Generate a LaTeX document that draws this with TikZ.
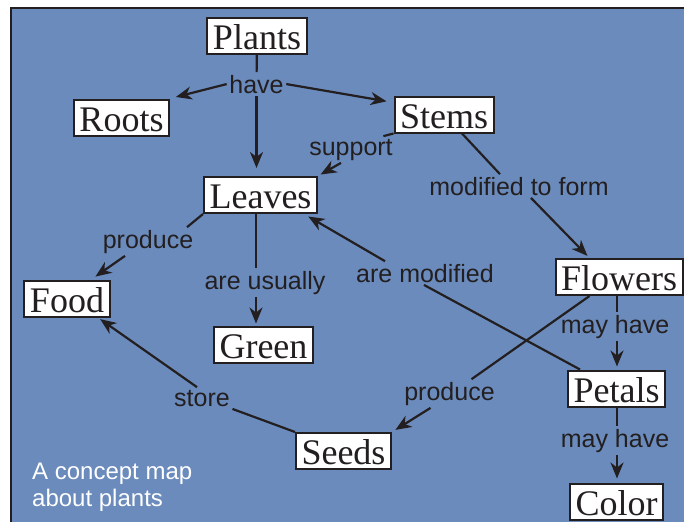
\documentclass[tikz,border=0pt]{standalone}
\usepackage{fontspec}
\setmainfont{Liberation Serif}
\setsansfont{Liberation Sans}
\usetikzlibrary{arrows.meta}
\definecolor{bg}{RGB}{106,139,188}
\definecolor{ink}{RGB}{35,31,32}
\begin{document}
\begin{tikzpicture}[x=1pt,y=-1pt,
  concept/.style={draw=ink, line width=2pt, fill=white, text=ink, font=\fontsize{36}{36}\selectfont, inner xsep=5.5pt, inner ysep=4.5pt, text height=27pt, text depth=0pt},
  lab/.style={text=ink, font=\sffamily\fontsize{25}{26}\selectfont, inner sep=2.5pt, anchor=base},
  captxt/.style={text=white, font=\sffamily\fontsize{24}{25}\selectfont, inner sep=0pt, anchor=base west},
  link/.style={draw=ink, line width=2.2pt},
  arr/.style={link, -{Stealth[length=16pt,width=13pt,inset=5pt]}},
]
\useasboundingbox (0,0) rectangle (684,522);
\fill[white] (0,0) rectangle (684,522);
\fill[bg] (11,8) rectangle (684,522);
\draw[ink, line width=1.5pt] (11,522) -- (11,8) -- (684,8);

% concepts
\node[concept] (plants)  at (257,36)     {Plants};
\node[concept] (roots)   at (121.5,117.5){Roots};
\node[concept] (stems)   at (444,114.5)  {Stems};
\node[concept] (leaves)  at (260.5,195)  {Leaves};
\node[concept] (food)    at (67,299)     {Food};
\node[concept] (green)   at (263.5,344.5){Green};
\node[concept] (flowers) at (619,277)    {Flowers};
\node[concept] (petals)  at (616.5,388.5){Petals};
\node[concept] (seeds)   at (343.5,451)  {Seeds};
\node[concept] (color)   at (616.5,501.5){Color};

% link labels
\node[lab] (have)      at (256.5,93)  {have};
\node[lab] (support)   at (351,155)   {support};
\node[lab] (modified)  at (519,195)   {modified to form};
\node[lab] (produce1)  at (148,248)   {produce};
\node[lab] (usually)   at (265,289)   {are usually};
\node[lab] (modified2) at (425,282)   {are modified};
\node[lab] (may1)      at (615,333)   {may have};
\node[lab] (produce2)  at (449.5,400) {produce};
\node[lab] (may2)      at (615,447)   {may have};
\node[lab] (store)     at (202,406)   {store};

% caption
\node[captxt] (cap1) at (32,479) {A concept map};
\node[captxt] (cap2) at (32,506) {about plants};

% connectors
\draw[link] (plants) -- (have);
\draw[arr, shorten >=6pt] (have.west) -- (roots.north east);
\draw[arr, shorten >=7pt] (have.east) -- ([yshift=-7pt]stems.north west);
\draw[arr, shorten >=8pt] (have.south) -- (have.south |- leaves.north);
\draw[link] (stems.south west) -- ([xshift=-12pt]support.north east);
\draw[arr, shorten >=3pt] ([xshift=-10pt]support.south) -- (leaves.north east);
\draw[link] ([xshift=18pt]stems.south) -- ([xshift=-19pt]modified.north);
\draw[arr, shorten >=3pt] ([xshift=12pt]modified.south) -- ([xshift=35pt]flowers.north west);
\draw[link] (leaves.south west) -- ([xshift=39pt]produce1.north);
\draw[arr, shorten >=6pt] ([xshift=-23pt]produce1.south) -- ([xshift=-20pt]food.north east);
\draw[link] ([xshift=-4.5pt]leaves.south) -- ([xshift=-4.5pt]leaves.south |- usually.north);
\draw[arr, shorten >=2pt] ([xshift=-9pt]usually.south) -- ([xshift=-9pt]usually.south |- green.north);
\draw[link] ([xshift=13pt]petals.north west) -- ([xshift=-1pt]modified2.south);
\draw[arr, shorten >=5pt] ([xshift=-40pt]modified2.north) -- ([xshift=-14pt]leaves.south east);
\draw[link] ([xshift=35pt]flowers.south west) -- ([xshift=22pt]produce2.north);
\draw[arr, shorten >=4pt] ([xshift=-19pt]produce2.south) -- (seeds.north east);
\draw[link] ([xshift=-2pt]flowers.south) -- ([xshift=-2pt]flowers.south |- may1.north);
\draw[arr, shorten >=3pt] ([xshift=2pt]may1.south) -- ([xshift=2pt]may1.south |- petals.north);
\draw[link] ([xshift=0.5pt]petals.south) -- ([xshift=0.5pt]petals.south |- may2.north);
\draw[arr, shorten >=4pt] ([xshift=2pt]may2.south) -- ([xshift=2pt]may2.south |- color.north);
\draw[link] (seeds.north west) -- (store.south east);
\draw[arr, shorten >=2pt] ([xshift=-5pt]store.north) -- ([xshift=-12pt]food.south east);
\end{tikzpicture}
\end{document}
